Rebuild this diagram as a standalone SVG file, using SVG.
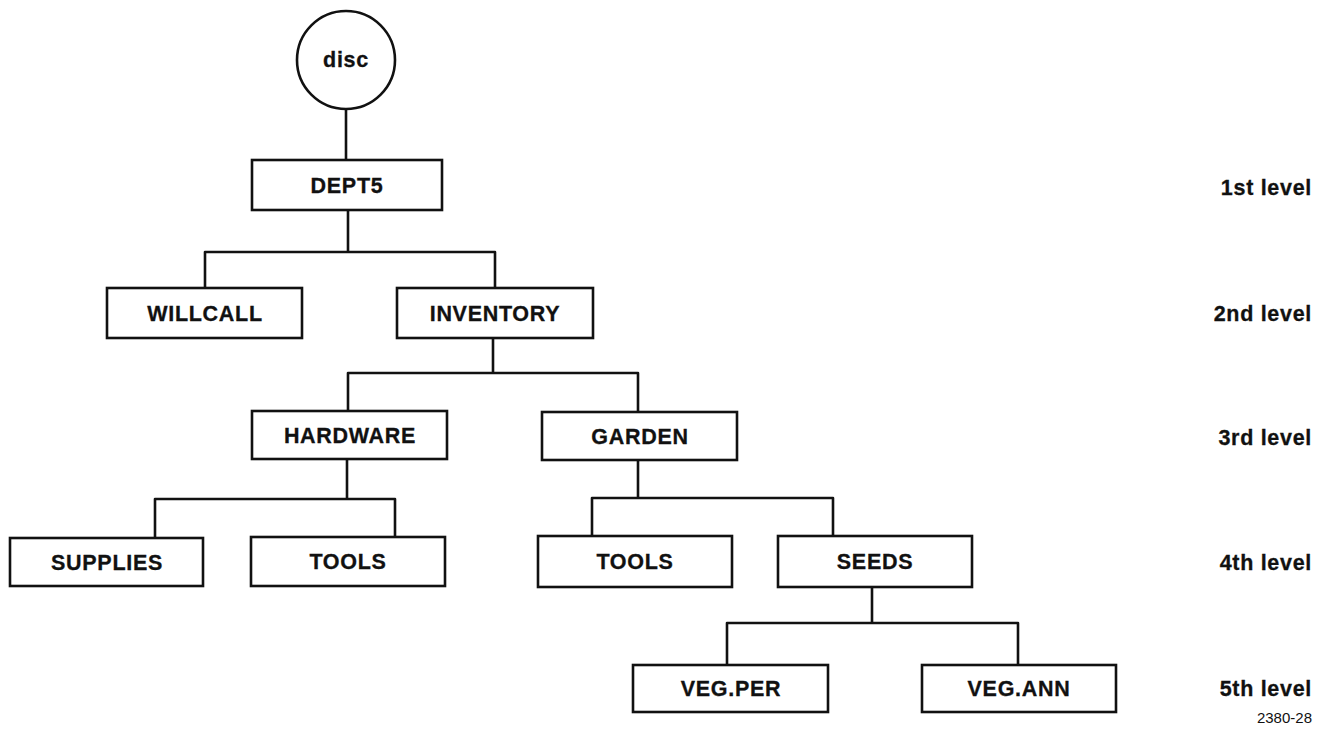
<svg xmlns="http://www.w3.org/2000/svg" width="1327" height="736" viewBox="0 0 1327 736">
<style>
.box{fill:#fff;stroke:#111;stroke-width:2.6}
.t{font-family:"Liberation Sans",Arial,sans-serif;font-weight:bold;font-size:21.5px;letter-spacing:0.7px;fill:#111;stroke:#111;stroke-width:0.3;text-anchor:middle}
.lv{font-family:"Liberation Sans",Arial,sans-serif;font-weight:bold;font-size:21.5px;letter-spacing:0.7px;fill:#111;stroke:#111;stroke-width:0.3;text-anchor:end}
.c{fill:none;stroke:#111;stroke-width:2.6;stroke-linejoin:round}
</style>
<rect width="1327" height="736" fill="#fff"/>
<g id="connectors">
<path class="c" d="M346 110V160"/>
<path class="c" d="M348 210V252M205 288V252H495V288"/>
<path class="c" d="M493 338V373M348 411V373H638V412"/>
<path class="c" d="M347 459V499M155 538V499H395V537"/>
<path class="c" d="M638 460V498M592 536V498H833V536"/>
<path class="c" d="M872 587V623M727 665V623H1018V665"/>
</g>
<g id="disc"><circle class="box" cx="346" cy="60" r="49"/><text class="t" x="346" y="67">disc</text></g>
<g id="dept5"><rect class="box" x="252" y="160" width="190" height="50"/><text class="t" x="347" y="193">DEPT5</text></g>
<g id="willcall"><rect class="box" x="107" y="288" width="195" height="50"/><text class="t" x="205" y="321">WILLCALL</text></g>
<g id="inventory"><rect class="box" x="397" y="288" width="196" height="50"/><text class="t" x="495" y="321">INVENTORY</text></g>
<g id="hardware"><rect class="box" x="252" y="411" width="195" height="48"/><text class="t" x="350" y="443">HARDWARE</text></g>
<g id="garden"><rect class="box" x="542" y="412" width="195" height="48"/><text class="t" x="640" y="444">GARDEN</text></g>
<g id="supplies"><rect class="box" x="10" y="538" width="193" height="48"/><text class="t" x="107" y="570">SUPPLIES</text></g>
<g id="tools-hw"><rect class="box" x="251" y="537" width="194" height="49"/><text class="t" x="348" y="569">TOOLS</text></g>
<g id="tools-gd"><rect class="box" x="538" y="536" width="194" height="51"/><text class="t" x="635" y="569">TOOLS</text></g>
<g id="seeds"><rect class="box" x="778" y="536" width="194" height="51"/><text class="t" x="875" y="569">SEEDS</text></g>
<g id="vegper"><rect class="box" x="633" y="665" width="195" height="47"/><text class="t" x="731" y="696">VEG.PER</text></g>
<g id="vegann"><rect class="box" x="922" y="665" width="194" height="47"/><text class="t" x="1019" y="696">VEG.ANN</text></g>
<g id="levels">
<text class="lv" x="1312" y="195">1st level</text>
<text class="lv" x="1312" y="321">2nd level</text>
<text class="lv" x="1312" y="445">3rd level</text>
<text class="lv" x="1312" y="570">4th level</text>
<text class="lv" x="1312" y="696">5th level</text>
<text x="1312" y="723" font-family="Liberation Sans,Arial,sans-serif" font-size="15" text-anchor="end" fill="#111">2380-28</text>
</g>
</svg>
